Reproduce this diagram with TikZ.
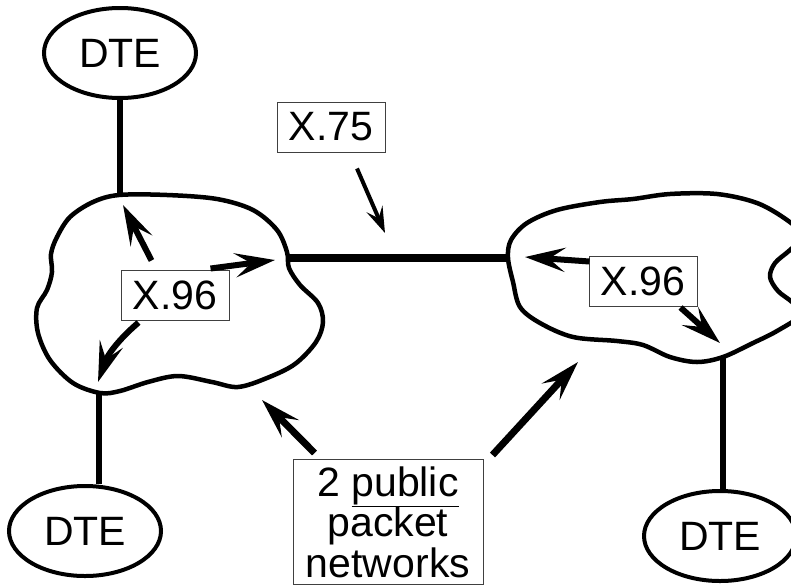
\documentclass[tikz,border=0pt]{standalone}
\usepackage{fontspec}
\setmainfont{Liberation Sans}
\usetikzlibrary{shapes.geometric, arrows.meta, calc}

\begin{document}
\begin{tikzpicture}[x=1pt,y=-1pt,
  every node/.style={font=\fontsize{41}{40.5}\selectfont},
  dte/.style={draw,ellipse,line width=4pt,minimum width=152pt,minimum height=90pt,inner sep=0pt},
  tag/.style={draw=black!75,line width=1pt,fill=white,minimum width=108pt,minimum height=50pt,inner sep=0pt},
  net/.style={line width=4.5pt,line join=round},
  link/.style={line width=6.5pt},
  arr/.style={line width=6pt,-{Stealth[length=40pt,width=24pt,inset=16pt]}}
  ]
  \useasboundingbox (0,0) rectangle (791,584);

  % the two networks
  \draw[net] plot[smooth cycle,tension=0.55] coordinates {(119,195) (167,195) (217,199) (253,210) (277,230) (287,252) (289,268) (300,285) (318,303) (323,322) (316,342) (295,364) (267,378) (238,387) (212,382) (178,376) (148,382) (120,391) (100,393) (73,383) (50,360) (38,333) (37,308) (47,290) (52,272) (51,254) (57,237) (70,217) (93,202)};
  \draw[net] plot[smooth cycle,tension=0.55] coordinates {(508,258) (511,240) (527,223) (557,210) (600,202) (633,199) (670,194) (717,194) (757,203) (787,220) (803,236) (790,250) (775,263) (770,277) (778,291) (792,302) (802,314) (777,331) (753,343) (723,357) (697,362) (670,357) (643,345) (617,341) (573,337) (540,323) (520,307) (513,282)};

  \coordinate (lnet-n) at (120,195);
  \coordinate (lnet-e) at (287,258);
  \coordinate (lnet-s) at (99,393);
  \coordinate (rnet-w) at (508,258);
  \coordinate (rnet-s) at (723,358);

  \node[dte] (dte-nw) at (120,53) {DTE};
  \node[dte] (dte-sw) at (85,531) {DTE};
  \node[dte] (dte-se) at (720,536) {DTE};

  \draw[link] (dte-nw) -- (lnet-n);
  \draw[link] (lnet-s) -- (lnet-s |- dte-sw.north);
  \draw[link] (rnet-s) -- (rnet-s |- dte-se.north);
  \draw[link,line width=8pt] (lnet-e) -- (rnet-w);

  % labels
  \node[tag] (x96-l) at (175,295) {X.96};
  \node[tag] (x96-r) at (643,281) {X.96};
  \node[tag] (x75) at (331,127) {X.75};
  \node[tag,minimum width=190pt,align=center,anchor=north,inner ysep=7pt] (pkt) at (388,459) {2 \underline{public}\\packet\\networks};

  \coordinate (tip-a) at (123,205);
  \coordinate (tip-b) at (275,260);
  \coordinate (tip-c) at (98,382);
  \coordinate (tip-d) at (525,257);
  \coordinate (tip-e) at (720,343);
  \coordinate (tip-f) at (385,233);
  \coordinate (tip-g) at (262,400);
  \coordinate (tip-h) at (578,362);

  \path[arr]
    ([shift={(31,-9)}]x96-l.north west) edge (tip-a)
    ([shift={(-19,-1)}]x96-l.north east) edge (tip-b)
    ([shift={(18,2)}]x96-l.south west) edge[bend right=15] (tip-c)

    ([shift={(1,6)}]x96-r.north west) edge (tip-d)
    ([shift={(-17,1)}]x96-r.south east) edge (tip-e)
    ;
  \path[arr,line width=7pt]
    ([shift={(22,-6)}]pkt.north west) edge (tip-g)
    ([shift={(9,-4)}]pkt.north east) edge (tip-h)
    ;
  \path[line width=4pt,-{Stealth[length=26pt,width=17pt,inset=10pt]}]
    ([shift={(26,16)}]x75.south) edge (tip-f);
\end{tikzpicture}
\end{document}
